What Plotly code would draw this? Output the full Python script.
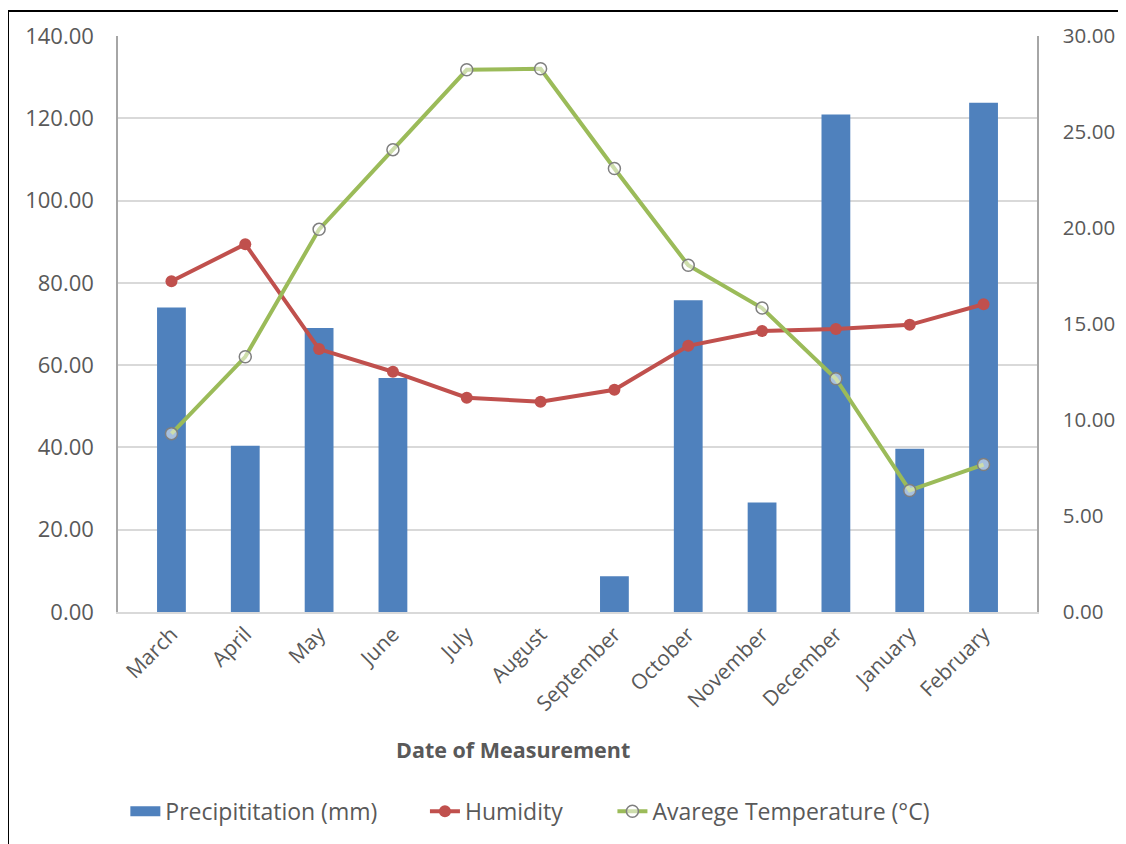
import plotly.graph_objects as go

months = ["March", "April", "May", "June", "July", "August", "September",
          "October", "November", "December", "January", "February"]
precipitation = [74.0, 40.4, 69.0, 56.9, 0, 0, 8.7, 75.8, 26.6, 120.9, 39.7, 123.8]
humidity = [80.4, 89.4, 63.9, 58.4, 52.1, 51.1, 54.0, 64.7, 68.3, 68.8, 69.8, 74.8]
avg_temp = [9.29, 13.29, 19.93, 24.08, 28.24, 28.29, 23.10, 18.06, 15.83, 12.15, 6.33, 7.68]

left_ticks = [0, 20, 40, 60, 80, 100, 120, 140]
right_ticks = [0, 5, 10, 15, 20, 25, 30]

FONT = "Open Sans, DejaVu Sans, sans-serif"
TXT = "#595959"
BLUE = "#4F81BD"

fig = go.Figure()
fig.add_trace(go.Bar(x=months, y=precipitation, name="Precipititation (mm)",
                     showlegend=False, legendgroup="p",
                     marker=dict(color=BLUE, line=dict(width=0))))
# legend entry for the bars (wide rectangle swatch)
fig.add_trace(go.Scatter(x=[None], y=[None], name="Precipititation (mm)", mode="lines",
                         legendgroup="p", legend="legend", line=dict(color=BLUE, width=12)))
fig.add_trace(go.Scatter(x=months, y=humidity, name="Humidity", mode="lines+markers",
                         legend="legend2",
                         line=dict(color="#C0504D", width=4),
                         marker=dict(color="#C0504D", size=12, symbol="circle")))
fig.add_trace(go.Scatter(x=months, y=avg_temp, name="Avarege Temperature (°C)",
                         mode="lines+markers", yaxis="y2", legend="legend3",
                         line=dict(color="#9BBB59", width=4),
                         marker=dict(color="rgba(255,255,255,0.5)", size=12, symbol="circle",
                                     line=dict(color="#7F7F7F", width=1.5))))

leg_common = dict(orientation="h", y=-0.346, yanchor="middle", xanchor="left",
                  font=dict(size=23, color=TXT), bgcolor="rgba(0,0,0,0)")

fig.update_layout(
    width=1126, height=844,
    margin=dict(l=110, r=97, t=26, b=240),
    paper_bgcolor="white", plot_bgcolor="white",
    font=dict(family=FONT, color=TXT, size=22),
    bargap=0.61,
    showlegend=True,
    legend=dict(x=0.008, **leg_common),
    legend2=dict(x=0.334, **leg_common),
    legend3=dict(x=0.538, **leg_common),
    xaxis=dict(tickangle=-45, showgrid=False, showline=True, linecolor="#D9D9D9",
               linewidth=1.5, ticks="", tickfont=dict(size=21, color=TXT)),
    yaxis=dict(range=[0, 140], tickvals=left_ticks, tickformat=".2f",
               showgrid=True, gridcolor="#D9D9D9", gridwidth=1.5,
               showline=True, linecolor="#A6A6A6", linewidth=1.5, zeroline=False,
               ticks="", ticklabelstandoff=18, tickfont=dict(size=22, color=TXT)),
    yaxis2=dict(range=[0, 30], tickvals=right_ticks, tickformat=".2f", overlaying="y",
                side="right", showgrid=False, showline=True, linecolor="#A6A6A6",
                linewidth=1.5, zeroline=False, ticks="", ticklabelstandoff=20,
                tickfont=dict(size=20.5, color=TXT)),
    annotations=[dict(text="<b>Date of Measurement</b>", xref="paper", yref="paper",
                      x=0.43, y=-0.239, xanchor="center", yanchor="middle",
                      showarrow=False, font=dict(size=21.5, color=TXT))],
    shapes=[dict(type="rect", xref="paper", yref="paper",
                 x0=(8 - 118) / 919, x1=1.3, y0=-0.6, y1=(612 - 9) / 578,
                 line=dict(color="black", width=2), fillcolor="rgba(0,0,0,0)", layer="above")],
)

fig.write_html("out.html")
